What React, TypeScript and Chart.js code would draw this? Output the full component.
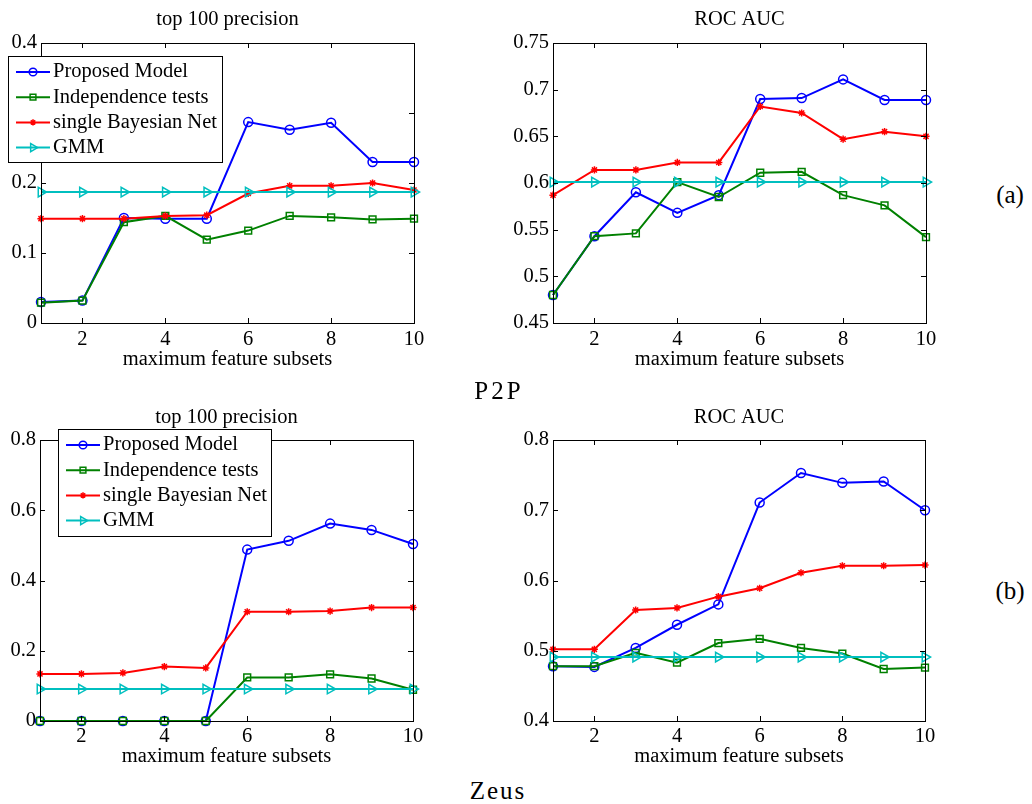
import React, { useEffect, useRef } from 'react';
import { Chart, registerables } from 'chart.js';

Chart.register(...registerables);

// ---------- data ----------
const xValues = [1, 2, 3, 4, 5, 6, 7, 8, 9, 10];
const xTicks = [2, 4, 6, 8, 10];
const seriesNames = ['Proposed Model', 'Independence tests', 'single Bayesian Net', 'GMM'];

// P2P - top 100 precision
const p2pPrecProposed = [0.030, 0.032, 0.150, 0.149, 0.149, 0.287, 0.276, 0.286, 0.230, 0.230];
const p2pPrecIndep = [0.029, 0.032, 0.144, 0.153, 0.119, 0.132, 0.153, 0.151, 0.148, 0.149];
const p2pPrecBayes = [0.149, 0.149, 0.149, 0.153, 0.154, 0.185, 0.196, 0.196, 0.200, 0.190];
const p2pPrecGMM = [0.187, 0.187, 0.187, 0.187, 0.187, 0.187, 0.187, 0.187, 0.187, 0.187];
const p2pPrecYTicks = [0, 0.1, 0.2, 0.3, 0.4];
const p2pPrecYLabels = ['0', '0.1', '0.2', '0.3', '0.4'];

// P2P - ROC AUC
const p2pAucProposed = [0.480, 0.543, 0.590, 0.568, 0.587, 0.690, 0.691, 0.711, 0.689, 0.689];
const p2pAucIndep = [0.480, 0.543, 0.546, 0.601, 0.585, 0.611, 0.612, 0.587, 0.576, 0.542];
const p2pAucBayes = [0.587, 0.614, 0.614, 0.622, 0.622, 0.682, 0.675, 0.647, 0.655, 0.650];
const p2pAucGMM = [0.601, 0.601, 0.601, 0.601, 0.601, 0.601, 0.601, 0.601, 0.601, 0.601];
const p2pAucYTicks = [0.45, 0.5, 0.55, 0.6, 0.65, 0.7, 0.75];
const p2pAucYLabels = ['0.45', '0.5', '0.55', '0.6', '0.65', '0.7', '0.75'];

// Zeus - top 100 precision
const zeusPrecProposed = [0, 0, 0, 0, 0, 0.488, 0.513, 0.562, 0.544, 0.504];
const zeusPrecIndep = [0, 0, 0, 0, 0, 0.124, 0.124, 0.133, 0.121, 0.089];
const zeusPrecBayes = [0.134, 0.134, 0.137, 0.155, 0.151, 0.311, 0.311, 0.313, 0.323, 0.323];
const zeusPrecGMM = [0.091, 0.091, 0.091, 0.091, 0.091, 0.091, 0.091, 0.091, 0.091, 0.091];
const zeusPrecYTicks = [0, 0.2, 0.4, 0.6, 0.8];
const zeusPrecYLabels = ['0', '0.2', '0.4', '0.6', '0.8'];

// Zeus - ROC AUC
const zeusAucProposed = [0.478, 0.477, 0.504, 0.537, 0.566, 0.711, 0.753, 0.739, 0.741, 0.700];
const zeusAucIndep = [0.478, 0.478, 0.497, 0.483, 0.511, 0.517, 0.504, 0.496, 0.474, 0.476];
const zeusAucBayes = [0.502, 0.502, 0.558, 0.561, 0.577, 0.589, 0.611, 0.621, 0.621, 0.622];
const zeusAucGMM = [0.491, 0.491, 0.491, 0.491, 0.491, 0.491, 0.491, 0.491, 0.491, 0.491];
const zeusAucYTicks = [0.4, 0.5, 0.6, 0.7, 0.8];
const zeusAucYLabels = ['0.4', '0.5', '0.6', '0.7', '0.8'];

// ---------- styling ----------
const FONT_FAMILY = "'Liberation Serif', 'Times New Roman', serif";
const FONT_SIZE = 20.5;
const LH = FONT_SIZE * 1.2;
const colors = ['#0000ff', '#008000', '#ff0000', '#00bfbf'];
const pointStyles = ['circle', 'rect', 'star', 'triangle'];
const pointRadii = [4.5, 4.8, 3.6, 5.5];
const pointRotations = [0, 0, 0, 90];

type Box = { x: number; y: number; w: number; h: number };
type Spec = {
  id: string;
  canvas: Box;
  plot: { L: number; T: number; R: number; B: number };
  title: string;
  titleMid: number;
  xTickMid: number;
  xTitleMid: number;
  yTicks: number[];
  yLabels: string[];
  series: number[][];
  legend?: Box;
};

const specs: Spec[] = [
  {
    id: 'p2p-prec',
    canvas: { x: 0, y: 0, w: 480, h: 375 },
    plot: { L: 41, T: 43, R: 414, B: 323 },
    title: 'top 100 precision',
    titleMid: 20,
    xTickMid: 340,
    xTitleMid: 360,
    yTicks: p2pPrecYTicks,
    yLabels: p2pPrecYLabels,
    series: [p2pPrecProposed, p2pPrecIndep, p2pPrecBayes, p2pPrecGMM],
    legend: { x: 8, y: 56, w: 214, h: 106 },
  },
  {
    id: 'p2p-auc',
    canvas: { x: 480, y: 0, w: 480, h: 375 },
    plot: { L: 553, T: 43, R: 926, B: 323 },
    title: 'ROC AUC',
    titleMid: 20,
    xTickMid: 340,
    xTitleMid: 360,
    yTicks: p2pAucYTicks,
    yLabels: p2pAucYLabels,
    series: [p2pAucProposed, p2pAucIndep, p2pAucBayes, p2pAucGMM],
  },
  {
    id: 'zeus-prec',
    canvas: { x: 0, y: 395, w: 480, h: 378 },
    plot: { L: 40, T: 440, R: 413, B: 721 },
    title: 'top 100 precision',
    titleMid: 418,
    xTickMid: 737,
    xTitleMid: 756.5,
    yTicks: zeusPrecYTicks,
    yLabels: zeusPrecYLabels,
    series: [zeusPrecProposed, zeusPrecIndep, zeusPrecBayes, zeusPrecGMM],
    legend: { x: 58, y: 429, w: 213, h: 107 },
  },
  {
    id: 'zeus-auc',
    canvas: { x: 480, y: 395, w: 480, h: 378 },
    plot: { L: 553, T: 440, R: 925, B: 721 },
    title: 'ROC AUC',
    titleMid: 418,
    xTickMid: 737,
    xTitleMid: 756.5,
    yTicks: zeusAucYTicks,
    yLabels: zeusAucYLabels,
    series: [zeusAucProposed, zeusAucIndep, zeusAucBayes, zeusAucGMM],
  },
];

function drawMarker(ctx: CanvasRenderingContext2D, style: string, x: number, y: number, r: number, color: string) {
  ctx.save();
  ctx.strokeStyle = color;
  ctx.lineWidth = 1.5;
  ctx.beginPath();
  if (style === 'circle') {
    ctx.arc(x, y, r, 0, Math.PI * 2);
  } else if (style === 'rect') {
    const s = r * Math.SQRT1_2;
    ctx.rect(x - s, y - s, 2 * s, 2 * s);
  } else if (style === 'star') {
    for (let k = 0; k < 4; k++) {
      const a = (k * Math.PI) / 4;
      ctx.moveTo(x - Math.cos(a) * r, y - Math.sin(a) * r);
      ctx.lineTo(x + Math.cos(a) * r, y + Math.sin(a) * r);
    }
  } else if (style === 'triangle') {
    const h = r * Math.sin(Math.PI / 3);
    ctx.moveTo(x + r, y);
    ctx.lineTo(x - r / 2, y - h);
    ctx.lineTo(x - r / 2, y + h);
    ctx.closePath();
  }
  ctx.stroke();
  ctx.restore();
}

function Panel({ spec }: { spec: Spec }) {
  const ref = useRef<HTMLCanvasElement | null>(null);

  useEffect(() => {
    if (!ref.current) return;
    const { canvas, plot } = spec;
    const font = { family: FONT_FAMILY, size: FONT_SIZE };
    const yMin = spec.yTicks[0];
    const yMax = spec.yTicks[spec.yTicks.length - 1];

    const axesBox = {
      id: 'axesBox',
      afterDraw(chart: any) {
        const ctx = chart.ctx as CanvasRenderingContext2D;
        const a = chart.chartArea;
        const xs = chart.scales.x;
        const ys = chart.scales.y;
        ctx.save();
        ctx.strokeStyle = '#000';
        ctx.lineWidth = 1;
        ctx.strokeRect(a.left + 0.5, a.top + 0.5, a.right - a.left, a.bottom - a.top);
        ctx.beginPath();
        const tl = 5;
        xTicks.forEach((v) => {
          const px = Math.round(xs.getPixelForValue(v)) + 0.5;
          ctx.moveTo(px, a.bottom);
          ctx.lineTo(px, a.bottom - tl);
          ctx.moveTo(px, a.top);
          ctx.lineTo(px, a.top + tl);
        });
        spec.yTicks.forEach((v) => {
          const py = Math.round(ys.getPixelForValue(v)) + 0.5;
          ctx.moveTo(a.left, py);
          ctx.lineTo(a.left + tl, py);
          ctx.moveTo(a.right, py);
          ctx.lineTo(a.right - tl, py);
        });
        ctx.stroke();
        ctx.restore();
      },
    };

    const legendPlugin = {
      id: 'boxLegend',
      afterDraw(chart: any) {
        if (!spec.legend) return;
        const ctx = chart.ctx as CanvasRenderingContext2D;
        const b = spec.legend;
        const bx = b.x - canvas.x;
        const by = b.y - canvas.y;
        ctx.save();
        ctx.fillStyle = '#fff';
        ctx.fillRect(bx, by, b.w, b.h);
        ctx.strokeStyle = '#000';
        ctx.lineWidth = 1;
        ctx.strokeRect(bx + 0.5, by + 0.5, b.w, b.h);
        ctx.font = `${FONT_SIZE}px ${FONT_FAMILY}`;
        ctx.textBaseline = 'middle';
        ctx.textAlign = 'left';
        seriesNames.forEach((name, i) => {
          const ry = by + 16 + 25.2 * i;
          ctx.strokeStyle = colors[i];
          ctx.lineWidth = 2;
          ctx.beginPath();
          ctx.moveTo(bx + 8, ry);
          ctx.lineTo(bx + 42, ry);
          ctx.stroke();
          drawMarker(ctx, pointStyles[i], bx + 25, ry, pointRadii[i] * 0.85, colors[i]);
          ctx.fillStyle = '#000';
          ctx.fillText(name, bx + 45, ry);
        });
        ctx.restore();
      },
    };

    const datasets = spec.series.map((vals, i) => ({
      label: seriesNames[i],
      data: xValues.map((x, k) => ({ x, y: vals[k] })),
      borderColor: colors[i],
      backgroundColor: colors[i],
      borderWidth: 2,
      pointStyle: pointStyles[i],
      pointRadius: pointRadii[i],
      pointRotation: pointRotations[i],
      pointBorderColor: colors[i],
      pointBackgroundColor: 'rgba(0,0,0,0)',
      pointBorderWidth: 1.5,
      tension: 0,
      fill: false,
      clip: false,
      order: 3 - i,
    }));

    const topH = plot.T - canvas.y;
    const bottomH = canvas.y + canvas.h - plot.B;
    const leftW = plot.L - canvas.x;
    const rightPad = canvas.x + canvas.w - plot.R;
    const titlePadTop = spec.titleMid - canvas.y - LH / 2;
    const xTickPad = spec.xTickMid - plot.B - LH / 2;
    const xTitlePadBottom = canvas.y + canvas.h - LH / 2 - spec.xTitleMid;

    const chart = new Chart(ref.current, {
      type: 'line',
      data: { datasets } as any,
      options: {
        animation: false,
        responsive: false,
        maintainAspectRatio: false,
        layout: { padding: { left: 0, top: 0, right: rightPad, bottom: 0 } },
        plugins: {
          legend: { display: false },
          tooltip: { enabled: false },
          title: { display: false },
        },
        scales: {
          x: {
            type: 'linear',
            position: 'bottom',
            min: 1,
            max: 10,
            grid: { display: false, drawTicks: false },
            border: { display: false },
            ticks: {
              padding: xTickPad,
              font,
              color: '#000',
              maxRotation: 0,
              autoSkip: false,
              callback: (v: any) => String(v),
            },
            afterBuildTicks: (s: any) => {
              s.ticks = xTicks.map((v) => ({ value: v }));
            },
            afterFit: (s: any) => {
              s.height = bottomH;
            },
            title: {
              display: true,
              text: 'maximum feature subsets',
              font,
              color: '#000',
              padding: { top: 0, bottom: xTitlePadBottom },
            },
          },
          y: {
            type: 'linear',
            position: 'left',
            min: yMin,
            max: yMax,
            grid: { display: false, drawTicks: false },
            border: { display: false },
            ticks: {
              padding: 4,
              font,
              color: '#000',
              autoSkip: false,
              callback: (v: any) => {
                const idx = spec.yTicks.findIndex((t) => Math.abs(t - Number(v)) < 1e-9);
                return idx >= 0 ? spec.yLabels[idx] : '';
              },
            },
            afterBuildTicks: (s: any) => {
              s.ticks = spec.yTicks.map((v) => ({ value: v }));
            },
            afterFit: (s: any) => {
              s.width = leftW;
            },
          },
          top: {
            type: 'linear',
            position: 'top',
            grid: { display: false, drawTicks: false },
            border: { display: false },
            ticks: { display: false },
            title: {
              display: true,
              text: spec.title,
              font,
              color: '#000',
              padding: { top: titlePadTop, bottom: 0 },
            },
            afterFit: (s: any) => {
              s.height = topH;
            },
          },
        },
      } as any,
      plugins: [axesBox, legendPlugin],
    });

    return () => chart.destroy();
  }, [spec]);

  return (
    <canvas
      ref={ref}
      width={spec.canvas.w}
      height={spec.canvas.h}
      style={{
        position: 'absolute',
        left: spec.canvas.x,
        top: spec.canvas.y,
        width: spec.canvas.w,
        height: spec.canvas.h,
      }}
    />
  );
}

const bigLabel = (x: number, y: number): React.CSSProperties => ({
  position: 'absolute',
  left: x,
  top: y,
  transform: 'translate(-50%, -50%)',
  fontFamily: FONT_FAMILY,
  fontSize: 25,
  lineHeight: 1,
  whiteSpace: 'nowrap',
  color: '#000',
});

export default function App() {
  return (
    <div
      style={{
        position: 'fixed',
        left: 0,
        top: 0,
        width: 1032,
        height: 804,
        background: '#fff',
        overflow: 'hidden',
      }}
    >
      {specs.map((s) => (
        <Panel key={s.id} spec={s} />
      ))}
      <div style={{ ...bigLabel(499, 390), letterSpacing: 3 }}>P2P</div>
      <div style={{ ...bigLabel(498, 790), letterSpacing: 2 }}>Zeus</div>
      <div style={bigLabel(1010, 194)}>(a)</div>
      <div style={bigLabel(1010, 590)}>(b)</div>
    </div>
  );
}
